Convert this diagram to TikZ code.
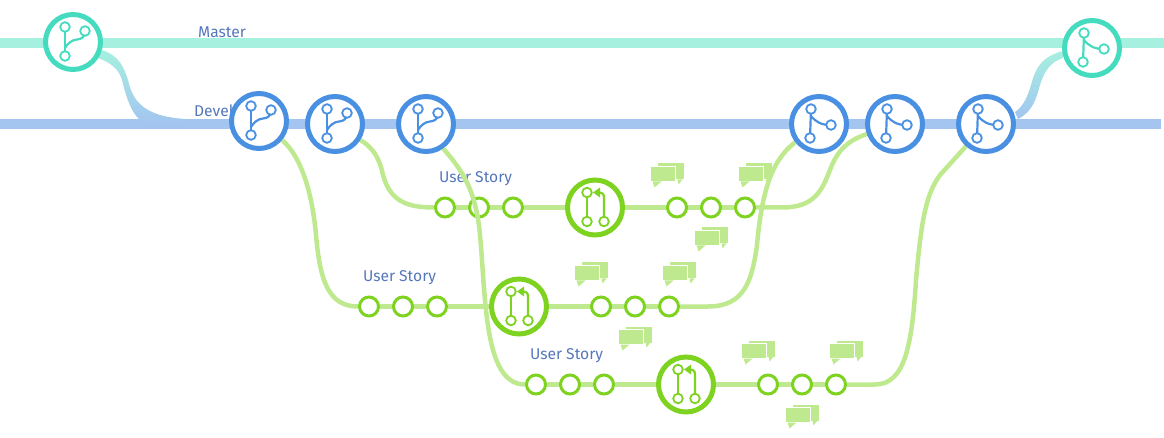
\documentclass[tikz,border=0pt]{standalone}
\usepackage{fontspec}
\setmainfont{Fira Sans}
\usetikzlibrary{backgrounds}
\definecolor{mastercol}{HTML}{A6F0E0}
\definecolor{mastermark}{HTML}{45DBBF}
\definecolor{devcol}{HTML}{A3C5F0}
\definecolor{devmark}{HTML}{4A90E2}
\definecolor{storycol}{HTML}{BEE98F}
\definecolor{storymark}{HTML}{7ED321}
\definecolor{labelcol}{HTML}{5577BB}
\begin{document}
\begin{tikzpicture}[x=1pt,y=-1pt]

\tikzset{hub/.style={circle, draw, fill=white, line width=5pt, minimum size=55pt, inner sep=0pt}}
\tikzset{masterhub/.style={hub, draw=mastermark}}
\tikzset{devhub/.style={hub, draw=devmark}}
\tikzset{storyhub/.style={hub, draw=storymark}}
\tikzset{commit/.style={circle, draw=storymark, fill=white, line width=3pt, minimum size=19pt, inner sep=0pt}}
\tikzset{mylabel/.style={text=labelcol, font=\fontsize{15.6}{19}\selectfont, inner sep=0pt}}
\tikzset{trunk/.style={line width=10pt}}
\tikzset{storyline/.style={storycol, line width=4.5pt}}
\tikzset{iconline/.style={line width=2.2pt}}
\tikzset{iconring/.style={line width=1.8pt, fill=white}}

\tikzset{pics/branchicon/.style={code={
    \draw[iconline, #1] (-8,-15) -- (-8,14);
    \draw[iconline, #1] (12,-11) .. controls (12,-5) and (9,-3) .. (4,-2.5) .. controls (-1,-2) and (-5,1) .. (-8,6);
    \draw[iconring, draw=#1] (-8,-15) circle (4.8);
    \draw[iconring, draw=#1] (12,-11) circle (4.8);
    \draw[iconring, draw=#1] (-8,14) circle (4.8);
}}}
\tikzset{pics/mergeicon/.style={code={
    \draw[iconline, #1] (-8,-15) -- (-9,14);
    \draw[iconline, #1] (-8,-8) .. controls (-3,-2) and (2,1) .. (12,1);
    \draw[iconring, draw=#1] (-8,-15) circle (4.8);
    \draw[iconring, draw=#1] (12,1) circle (4.8);
    \draw[iconring, draw=#1] (-9,14) circle (4.8);
}}}
\tikzset{pics/pullicon/.style={code={
    \draw[iconline, #1] (-8,-15) -- (-8,14);
    \draw[iconline, #1] (9,14) -- (9,-10) .. controls (9,-14) and (7,-15) .. (3,-15);
    \fill[#1] (-2,-15) -- (5,-20) -- (5,-10) -- cycle;
    \draw[iconring, draw=#1] (-8,-15) circle (4.8);
    \draw[iconring, draw=#1] (-8,14) circle (4.8);
    \draw[iconring, draw=#1] (9,14) circle (4.8);
}}}
\tikzset{pics/chaticon/.style={code={
    \fill[storycol] (7,0) rectangle (33,16);
    \fill[storycol] (27,16) -- (28,21) -- (32,16) -- cycle;
    \fill[storycol, draw=white, line width=0.8pt] (0,3) rectangle (25,18);
    \fill[storycol] (2,18) -- (4,24) -- (11,18) -- cycle;
}}}

\useasboundingbox (0,0) rectangle (1164,438);

\node[mylabel] (masterlabel) at (222,32) {Master};
\node[mylabel, anchor=west] (devlabel) at (194,112.5) {Develop};
\node[mylabel] (storylabela) at (475.5,179) {User Story};
\node[mylabel] (storylabelb) at (399.5,278) {User Story};
\node[mylabel] (storylabelc) at (566.5,356) {User Story};

\node[masterhub] (masterstart) at (73,42) {};
\node[masterhub] (masterend) at (1092,48) {};

\node[devhub] (deva) at (259,121) {};
\node[devhub] (devb) at (335,124) {};
\node[devhub] (devc) at (426,124) {};
\node[devhub] (devd) at (819,124) {};
\node[devhub] (deve) at (895,124) {};
\node[devhub] (devf) at (986,124) {};

\node[storyhub] (pulla) at (595,207.5) {};
\node[storyhub] (pullb) at (519,306.5) {};
\node[storyhub] (pullc) at (686,384.5) {};

\node[commit] (aone) at (445,207.5) {};
\node[commit] (atwo) at (479,207.5) {};
\node[commit] (athree) at (513,207.5) {};
\node[commit] (afour) at (677,207.5) {};
\node[commit] (afive) at (711,207.5) {};
\node[commit] (asix) at (745,207.5) {};

\node[commit] (bone) at (369,306.5) {};
\node[commit] (btwo) at (403,306.5) {};
\node[commit] (bthree) at (437,306.5) {};
\node[commit] (bfour) at (601,306.5) {};
\node[commit] (bfive) at (635,306.5) {};
\node[commit] (bsix) at (669,306.5) {};

\node[commit] (cone) at (536,384.5) {};
\node[commit] (ctwo) at (570,384.5) {};
\node[commit] (cthree) at (604,384.5) {};
\node[commit] (cfour) at (768,384.5) {};
\node[commit] (cfive) at (802,384.5) {};
\node[commit] (csix) at (836,384.5) {};

\coordinate (masterleft) at (0,43);
\coordinate (masterright) at (1164,43);
\coordinate (devleft) at (0,124);
\coordinate (devright) at (1161,124);

\begin{scope}[on background layer]
\draw[storyline] (deva) .. controls (300,155) and (312,190) .. (316,235) .. controls (320,280) and (328,306.5) .. (bone);
\draw[storyline] (devb) .. controls (365,143) and (378,150) .. (383,175) .. controls (390,200) and (405,207.5) .. (aone);
\draw[storyline] (aone) -- (athree) -- (pulla) -- (asix);
\draw[storyline] (asix) -- (782,207.5) .. controls (815,207.5) and (822,190) .. (830,170) .. controls (838,148) and (850,140) .. (deve);
\draw[storyline] (bone) -- (bthree) -- (pullb) -- (bsix);
\draw[storyline] (bsix) -- (708,306.5) .. controls (745,306.5) and (752,280) .. (757,245) .. controls (762,190) and (772,160) .. (devd);
\draw[storyline] (cone) -- (cthree) -- (pullc) -- (csix);
\draw[storyline] (csix) -- (875,384.5) .. controls (905,384.5) and (912,345) .. (916,280) .. controls (921,225) and (925,195) .. (940,175) -- (devf);

\draw[trunk, mastercol] (masterleft) -- (masterright);
\draw[trunk, devcol] (devleft) -- (devright);

\shade[top color=mastercol, bottom color=devcol] (102,50) .. controls (120,56) and (124,68) .. (128,80) .. controls (132,96) and (138,116) .. (185,119) -- (185,124) -- (145,124) .. controls (132,116) and (127,100) .. (122,80) .. controls (119,70) and (112,63) .. (98,58) -- cycle;
\shade[top color=mastercol, bottom color=devcol] (1015,112) .. controls (1024,106) and (1028,95) .. (1031,85) .. controls (1035,70) and (1040,57) .. (1063,51) -- (1063,58) .. controls (1050,62) and (1044,72) .. (1040,85) .. controls (1036,100) and (1032,112) .. (1018,119) -- cycle;
\end{scope}

\draw[storyline] (devc.-55) .. controls (462,170) and (476,190) .. (480,235) .. controls (486,300) and (484,384.5) .. (cone);

\pic at (masterstart) {branchicon=mastermark};
\pic at (masterend) {mergeicon=mastermark};

\pic at (deva) {branchicon=devmark};
\pic at (devb) {branchicon=devmark};
\pic at (devc) {branchicon=devmark};
\pic at (devd) {mergeicon=devmark};
\pic at (deve) {mergeicon=devmark};
\pic at (devf) {mergeicon=devmark};

\pic at (pulla) {pullicon=storymark};
\pic at (pullb) {pullicon=storymark};
\pic at (pullc) {pullicon=storymark};

\pic at (650.5,163.5) {chaticon};
\pic at (738.5,163.5) {chaticon};
\pic at (694.5,227.5) {chaticon};
\pic at (574.5,262.5) {chaticon};
\pic at (662.5,262.5) {chaticon};
\pic at (618.5,326.5) {chaticon};
\pic at (741.5,340.5) {chaticon};
\pic at (829.5,340.5) {chaticon};
\pic at (785.5,404.5) {chaticon};

\end{tikzpicture}
\end{document}
